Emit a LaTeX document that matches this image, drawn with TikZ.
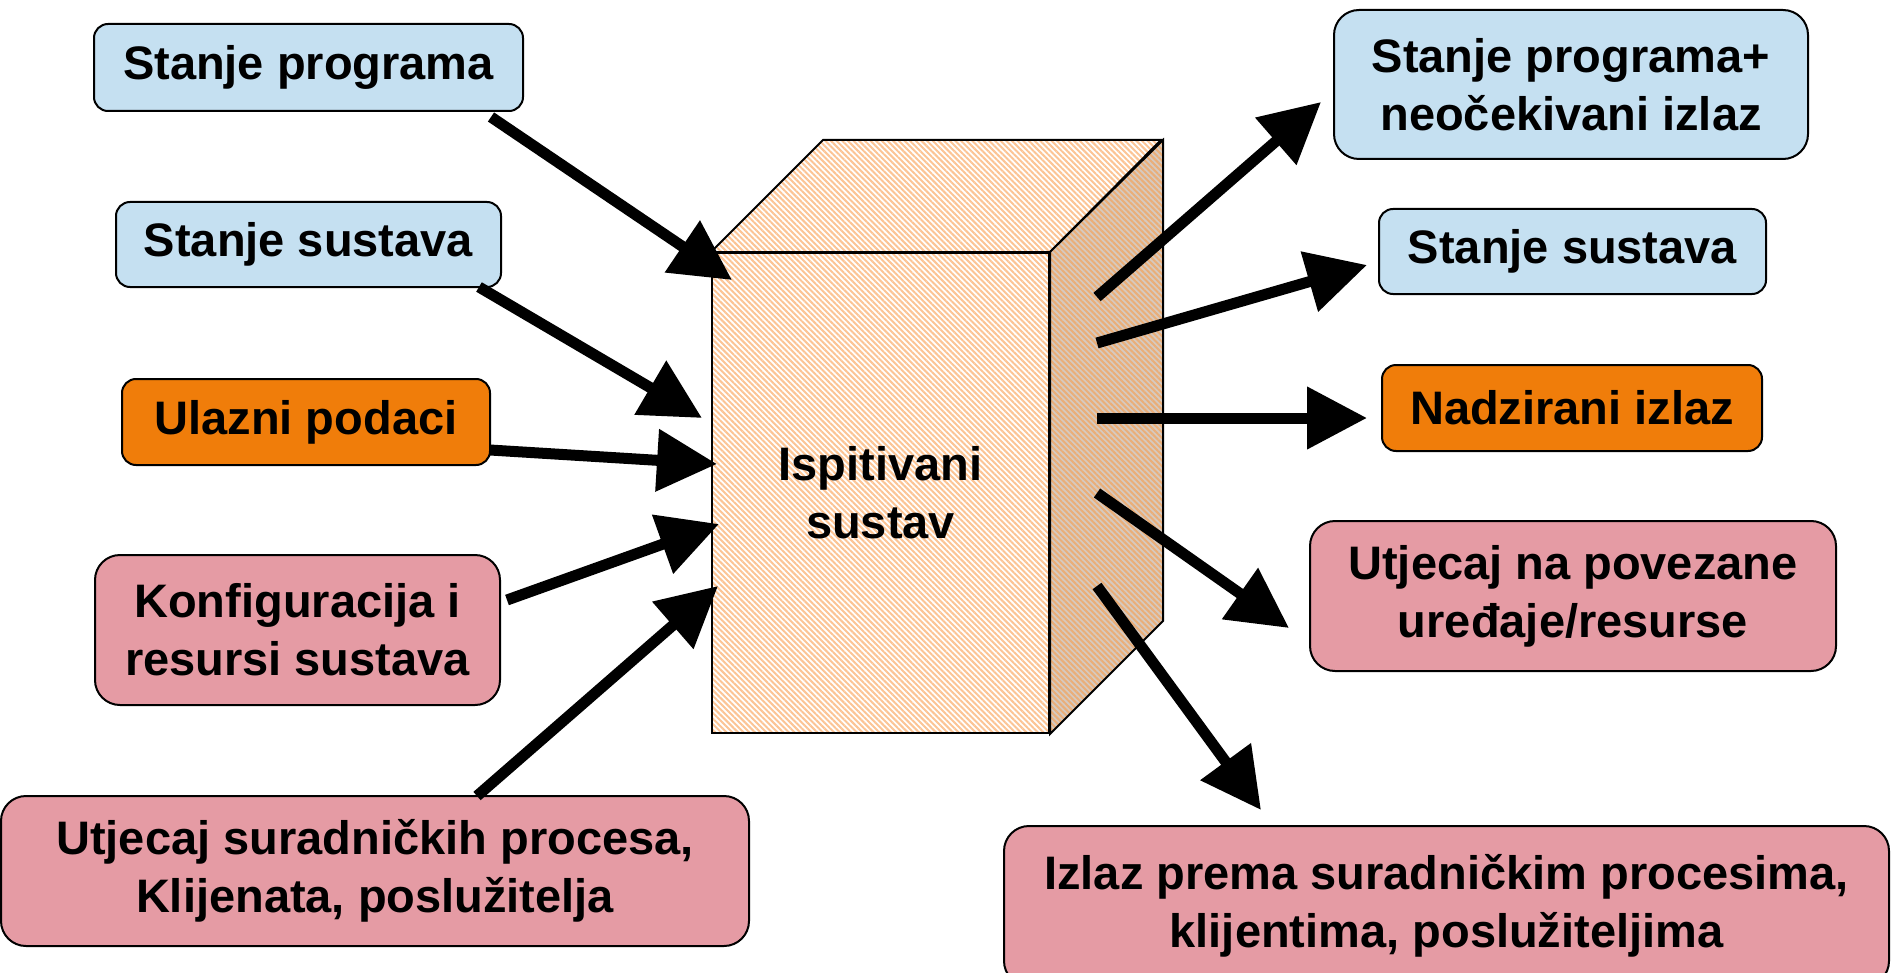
\documentclass[tikz,border=0pt]{standalone}
\usepackage{fontspec}
\setmainfont{Liberation Sans}
\usetikzlibrary{arrows.meta,patterns.meta}

\definecolor{stateblue}{RGB}{197,224,241}
\definecolor{dataorange}{RGB}{240,125,10}
\definecolor{envpink}{RGB}{229,155,164}
\definecolor{stripe}{RGB}{252,196,148}
\definecolor{sidebase}{RGB}{214,202,192}
\definecolor{sidestripe}{RGB}{234,174,120}

\tikzset{
  lbl/.style={draw=black, line width=1pt, align=center, inner sep=0pt,
    font=\fontsize{23.5}{29}\selectfont\bfseries},
  smallbox/.style={lbl, rounded corners=7pt},
  bigbox/.style={lbl, rounded corners=12.5pt},
  flow/.style={line width=5.5pt, -{Triangle[length=30pt,width=30pt]}},
  hatch/.style={preaction={fill=white},
    pattern={Lines[angle=-45,distance=2pt,line width=1pt]}, pattern color=stripe},
  sidehatch/.style={preaction={fill=sidebase},
    pattern={Lines[angle=-45,distance=2pt,line width=1pt]}, pattern color=sidestripe},
}

\begin{document}
\begin{tikzpicture}[x=0.5pt,y=-0.5pt]
\useasboundingbox (0,0) rectangle (1893,973);

% system under test: a hatched block
\node[lbl, hatch, minimum width=168.5pt, minimum height=240pt] (sut) at (880.5,493)
  {Ispitivani\\sustav};
\path[draw, line width=1pt, hatch]
  (sut.north west) -- ++(112,-112) -- ++(338,0) -- (sut.north east) -- cycle;
\path[draw, line width=1pt, sidehatch]
  (sut.north east) -- ++(113,-112) -- ++(0,481) -- (sut.south east) -- cycle;

% inputs
\node[smallbox, fill=stateblue, minimum width=214.5pt, minimum height=43.5pt] (sp) at (308.5,67.5) {Stanje programa};
\node[smallbox, fill=stateblue, minimum width=192.5pt, minimum height=42.5pt] (ssl) at (308.5,244.5) {Stanje sustava};
\node[smallbox, fill=dataorange, minimum width=184pt, minimum height=43pt] (ul) at (306,422) {Ulazni podaci};
\node[bigbox, fill=envpink, minimum width=202.5pt, minimum height=75pt] (kf) at (297.5,630) {Konfiguracija i\\resursi sustava};
\node[bigbox, fill=envpink, minimum width=374pt, minimum height=75pt] (us) at (375,871) {Utjecaj suradničkih procesa,\\Klijenata, poslužitelja};

% outputs
\node[bigbox, fill=stateblue, minimum width=237pt, minimum height=74.5pt] (spn) at (1571,84.5) {Stanje programa+\\neočekivani izlaz};
\node[smallbox, fill=stateblue, minimum width=193.5pt, minimum height=42.5pt] (ssr) at (1572.5,251.5) {Stanje sustava};
\node[smallbox, fill=dataorange, minimum width=190pt, minimum height=43pt] (ni) at (1572,408) {Nadzirani izlaz};
\node[bigbox, fill=envpink, minimum width=263pt, minimum height=75pt] (up) at (1573,596) {Utjecaj na povezane\\uređaje/resurse};
\node[bigbox, fill=envpink, minimum width=442.5pt, minimum height=80pt] (iz) at (1446.5,906) {Izlaz prema suradničkim procesima,\\klijentima, poslužiteljima};

% connector end points
\coordinate (a1s) at (491,117);  \coordinate (a1t) at (732,280);
\coordinate (a2s) at (479,287);  \coordinate (a2t) at (702,418);
\coordinate (a3s) at (490,450);  \coordinate (a3t) at (717,464);
\coordinate (a4s) at (507,600);  \coordinate (a4t) at (719,524);
\coordinate (a5s) at (477,796);  \coordinate (a5t) at (718,586);
\coordinate (b1s) at (1097,297); \coordinate (b1t) at (1321,102);
\coordinate (b2s) at (1097,343); \coordinate (b2t) at (1367,265);
\coordinate (b3s) at (1097,418); \coordinate (b3t) at (1367,418);
\coordinate (b4s) at (1097,493); \coordinate (b4t) at (1289,628);
\coordinate (b5s) at (1097,586); \coordinate (b5t) at (1261,810);

% flows into and out of the system
\draw[flow] (a1s) -- (a1t);
\draw[flow] (a2s) -- (a2t);
\draw[flow] (a3s) -- (a3t);
\draw[flow] (a4s) -- (a4t);
\draw[flow] (a5s) -- (a5t);
\draw[flow] (b1s) -- (b1t);
\draw[flow] (b2s) -- (b2t);
\draw[flow] (b3s) -- (b3t);
\draw[flow] (b4s) -- (b4t);
\draw[flow] (b5s) -- (b5t);
\end{tikzpicture}
\end{document}
